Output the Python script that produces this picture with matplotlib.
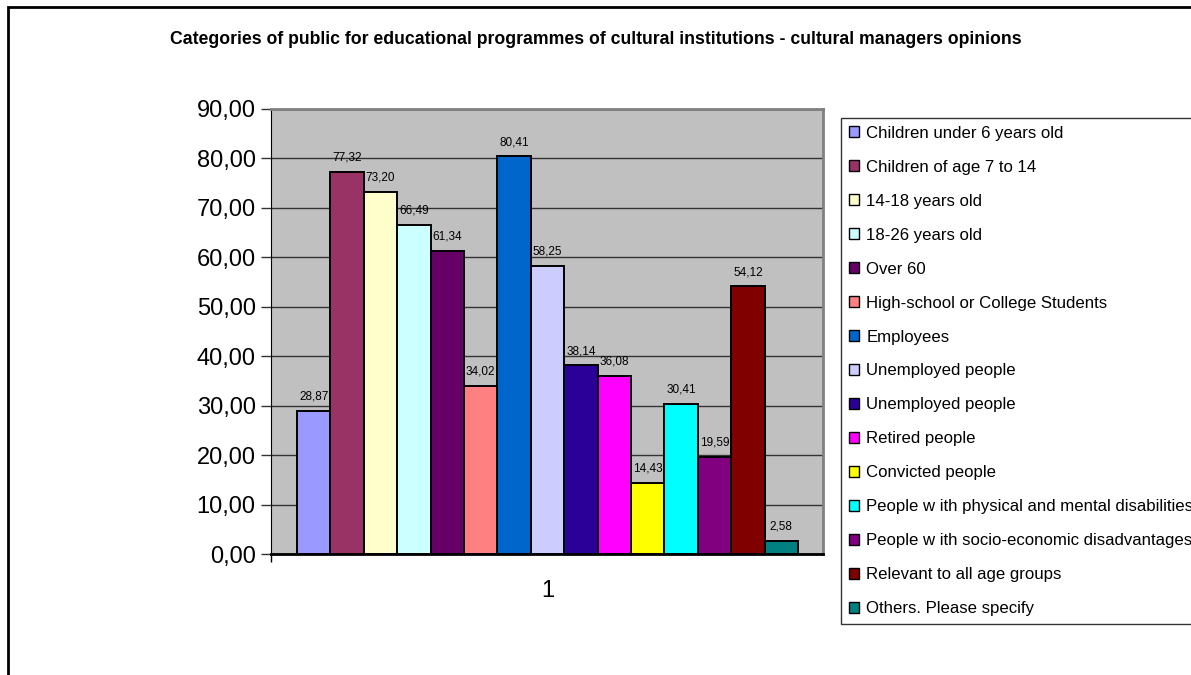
import matplotlib
matplotlib.use("Agg")
import matplotlib.pyplot as plt
from matplotlib.patches import Rectangle

plt.rcParams["font.family"] = ["Liberation Sans", "DejaVu Sans"]

# --- Data ---
TITLE = ("Categories of public for educational programmes of cultural institutions"
         " - cultural managers opinions")
categories = [
    "Children under 6 years old",
    "Children of age 7 to 14",
    "14-18 years old",
    "18-26 years old",
    "Over 60",
    "High-school or College Students",
    "Employees",
    "Unemployed people",
    "Unemployed people",
    "Retired people",
    "Convicted people",
    "People w ith physical and mental disabilities",
    "People w ith socio-economic disadvantages",
    "Relevant to all age groups",
    "Others. Please specify",
]
values = [28.87, 77.32, 73.20, 66.49, 61.34, 34.02, 80.41, 58.25,
          38.14, 36.08, 14.43, 30.41, 19.59, 54.12, 2.58]
colors = ["#9999FF", "#993366", "#FFFFCC", "#CCFFFF", "#660066", "#FF8080",
          "#0066CC", "#CCCCFF", "#2A0099", "#FF00FF", "#FFFF00", "#00FFFF",
          "#800080", "#800000", "#008080"]
yticks = [0, 10, 20, 30, 40, 50, 60, 70, 80, 90]
group_label = "1"

W, H = 1191, 675
fig = plt.figure(figsize=(W / 100, H / 100), dpi=100)

# outer chart border
fig.patches.append(Rectangle((8 / W, -0.1), 1.2, 1 - 7 / H + 0.1, transform=fig.transFigure,
                             fill=False, edgecolor="black", linewidth=2, zorder=0))

ax = fig.add_axes([271 / W, 1 - 554 / H, 552 / W, 445 / H])
ax.set_facecolor("#C0C0C0")

n = len(values)
xs = list(range(n))
bars = ax.bar(xs, values, width=1.0, color=colors, edgecolor="black", linewidth=1.4, zorder=3)

for x, v in zip(xs, values):
    ax.annotate(f"{v:.2f}".replace(".", ","), (x, v), xytext=(0, 6), textcoords="offset points",
                ha="center", va="bottom", fontsize=8.5, zorder=4)

ax.set_xlim(-1.28, n - 0.5 + 0.75)
ax.set_ylim(0, 90)
ax.set_yticks(yticks)
ax.set_yticklabels([f"{t:.2f}".replace(".", ",") for t in yticks], fontsize=17)
ax.yaxis.grid(True, color="#333333", linewidth=1, zorder=0)
ax.set_axisbelow(True)
ax.tick_params(axis="y", direction="out", length=7, width=1, pad=4, color="#333333")

ax.set_xticks([(n - 1) / 2])
ax.set_xticklabels([group_label], fontsize=17)
ax.tick_params(axis="x", length=0, pad=19)
ax.set_xticks([ax.get_xlim()[0]], minor=True)
ax.tick_params(axis="x", which="minor", direction="out", length=6, width=1)

for side in ["top", "right"]:
    ax.spines[side].set_color("#808080")
    ax.spines[side].set_linewidth(2)
ax.spines["left"].set_color("black")
ax.spines["bottom"].set_color("black")
ax.spines["bottom"].set_linewidth(2)
ax.spines["bottom"].set_zorder(5)

fig.text(0.5, 1 - 40 / H, TITLE, ha="center", va="center", fontsize=12.7, fontweight="bold")

# --- Legend ---
handles = [Rectangle((0, 0), 1, 1, facecolor=c, edgecolor="black", linewidth=1) for c in colors]
leg = fig.legend(handles, categories, loc="upper left", bbox_to_anchor=(841 / W, 1 - 118 / H),
                 fontsize=12.1, frameon=True, fancybox=False, handlelength=0.6, handleheight=0.6,
                 handletextpad=0.45, labelspacing=1.13, borderpad=0.45, borderaxespad=0)
leg.get_frame().set_edgecolor("black")
leg.get_frame().set_linewidth(1)

fig.savefig("out.png", dpi=100)
